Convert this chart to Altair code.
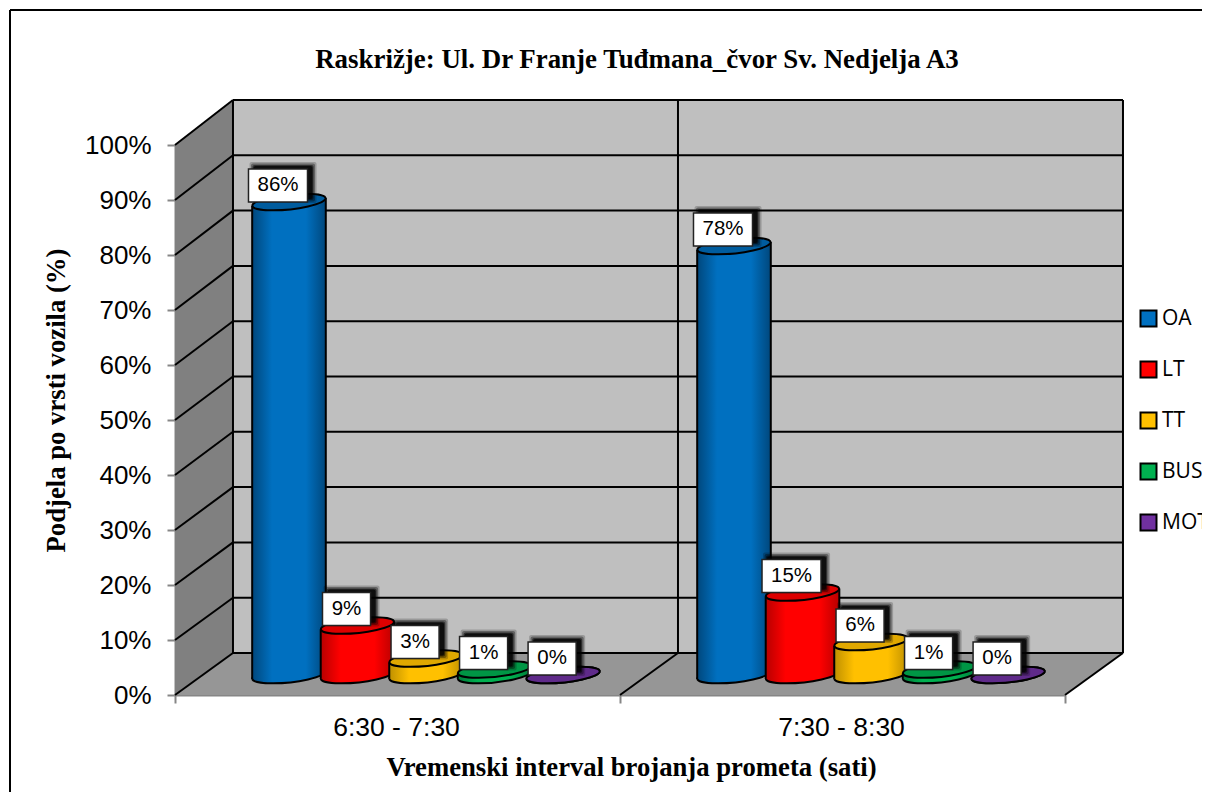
import altair as alt
import pandas as pd

TITLE = "Raskrižje: Ul. Dr Franje Tuđmana_čvor Sv. Nedjelja A3"
X_TITLE = "Vremenski interval brojanja prometa (sati)"
Y_TITLE = "Podjela po vrsti vozila (%)"
INTERVALS = ["6:30 - 7:30", "7:30 - 8:30"]
SERIES = ["OA", "LT", "TT", "BUS", "MOT"]
OA = [86, 78]
LT = [9, 15]
TT = [3, 6]
BUS = [1, 1]
MOT = [0, 0]
VALUES = [OA, LT, TT, BUS, MOT]
BASE = ["#0070C0", "#FF0000", "#FFC000", "#00B050", "#7030A0"]
DARK = ["#00477C", "#B80000", "#BF9000", "#007A38", "#4C2070"]
TOP = ["#005C9E", "#DD0000", "#E0A800", "#009645", "#5F2A8A"]
TICKS = list(range(0, 101, 10))

# Projection constants, in data units (x: one category = 1, y: percent)
DX = 0.1303
DY0 = 7.636
DYK = 1.00545
BASE_Y = 3.64
HALF_W = 0.0827
TILT = 0.71
SLOT0 = 0.191
SLOT = 0.154
DOT = 5420
ELLIPSE = "M-0.9945,0.1045 A1,0.2 -6 1 1 0.9945,-0.1045 A1,0.2 -6 1 1 -0.9945,0.1045 Z"

sx = alt.Scale(domain=[0, 2], nice=False, zero=False)
sy = alt.Scale(domain=[0, 100], nice=False, zero=False)

XAX = alt.Axis(
    values=[0, 1, 2], grid=False, tickSize=8, tickColor="#868686", domainColor="#868686",
    domainWidth=2, tickWidth=2,
    labelExpr=f"datum.value==0?'{INTERVALS[0]}':datum.value==1?'{INTERVALS[1]}':''",
    labelOffset=221, labelFont="Liberation Sans", labelFontSize=26.5, labelColor="black",
    labelPadding=11, labelOverlap=False, labelFlush=False,
    titleFont="Liberation Serif", titleFontWeight="bold", titleFontSize=26.7, titleColor="black",
    titleX=456, titleY=59,
)
YAX = alt.Axis(
    values=TICKS, grid=False, tickSize=8, tickColor="#868686", domainColor="#868686",
    domainWidth=2, tickWidth=2,
    labelExpr="datum.value+'%'", labelFont="Liberation Sans", labelFontSize=26, labelColor="black",
    labelPadding=16, labelOverlap=False,
    titleFont="Liberation Serif", titleFontWeight="bold", titleFontSize=26.7, titleColor="black",
    titleX=-105, titleY=255,
)


def X(f="x:Q"):
    return alt.X(f, scale=sx, axis=XAX, title=X_TITLE)


def Y(f="y:Q"):
    return alt.Y(f, scale=sy, axis=YAX, title=Y_TITLE)


def back(v):
    return DY0 + DYK * v


def cx(g, i):
    return g + DX / 2 + SLOT0 + SLOT * i


def rule(rows, color="black", w=2):
    return alt.Chart(pd.DataFrame(rows, columns=["x", "y", "x2", "y2"])).mark_rule(
        color=color, strokeWidth=w
    ).encode(x=X(), y=Y(), x2="x2:Q", y2="y2:Q")


def area(rows, fill):
    return alt.Chart(pd.DataFrame(rows, columns=["g", "x", "y", "y2"])).mark_area(
        color=fill, orient="vertical", opacity=1
    ).encode(x=X(), y=Y(), y2="y2:Q", detail="g:N")


def grad(dark, mid):
    return alt.Gradient(
        gradient="linear", x1=0, x2=1, y1=0, y2=0,
        stops=[
            alt.GradientStop(color=dark, offset=0),
            alt.GradientStop(color=mid, offset=0.27),
            alt.GradientStop(color=mid, offset=0.73),
            alt.GradientStop(color=dark, offset=1),
        ],
    )


layers = []

# walls and floor
layers.append(area([[0, 0, 100, 0], [0, DX, back(100), back(0)]], "#808080"))
layers.append(area([[0, DX, back(100), back(0)], [0, 2 + DX, back(100), back(0)]], "#BFBFBF"))
layers.append(area([[0, 0, 0, 0], [0, DX, back(0), 0], [0, 2, back(0), 0], [0, 2 + DX, back(0), back(0)]], "#969696"))

# grid lines on both walls
layers.append(rule([[0, t, DX, back(t)] for t in TICKS] + [[DX, back(t), 2 + DX, back(t)] for t in TICKS]))
layers.append(rule([
    [DX, back(100), DX, back(0)],
    [1 + DX, back(100), 1 + DX, back(0)],
    [2 + DX, back(100), 2 + DX, back(0)],
    [1, 0, 1 + DX, back(0)],
    [2, 0, 2 + DX, back(0)],
]))

# hidden points carrying the colour legend
legend_df = pd.DataFrame([
    {"x": cx(g, i), "y": BASE_Y, "s": s}
    for i, s in enumerate(SERIES) for g in range(2)
])
layers.append(
    alt.Chart(legend_df).mark_point(shape=ELLIPSE, size=DOT * 0.8, filled=True, opacity=1).encode(
        x=X(),
        y=Y(),
        color=alt.Color(
            "s:N",
            scale=alt.Scale(domain=SERIES, range=BASE),
            title=None,
            legend=alt.Legend(
                orient="none", legendX=963, legendY=163, symbolType="square", symbolSize=256,
                symbolStrokeColor="black", symbolStrokeWidth=2, symbolOpacity=1,
                labelFont="Open Sans", labelFontSize=21, labelColor="black",
                rowPadding=26, labelOffset=3, padding=0, labelLimit=200,
            ),
        ),
    )
)

# cylinders
for i, (s, vals) in enumerate(zip(SERIES, VALUES)):
    g = grad(DARK[i], BASE[i])
    bot = pd.DataFrame({"x": [cx(k, i) for k in range(2)], "y": [BASE_Y, BASE_Y]})
    top = pd.DataFrame({"x": [cx(k, i) for k in range(2)], "y": [BASE_Y + v for v in vals]})
    layers.append(
        alt.Chart(bot).mark_point(shape=ELLIPSE, size=DOT, filled=True, fill=g, stroke="black", strokeWidth=2, opacity=1).encode(
            x=X(), y=Y()
        )
    )
    body, edges = [], []
    for k, v in enumerate(vals):
        c = cx(k, i)
        yt = BASE_Y + v
        if v > 0:
            body.append([k, c - HALF_W, yt - TILT, BASE_Y - TILT])
            body.append([k, c + HALF_W, yt + TILT, BASE_Y + TILT])
            edges.append([c - HALF_W, yt - TILT, c - HALF_W, BASE_Y - TILT])
            edges.append([c + HALF_W, yt + TILT, c + HALF_W, BASE_Y + TILT])
    if body:
        layers.append(area(body, g))
        layers.append(rule(edges))
    layers.append(
        alt.Chart(top).mark_point(shape=ELLIPSE, size=DOT, filled=True, fill=TOP[i], stroke="black", strokeWidth=2, opacity=1).encode(
            x=X(), y=Y()
        )
    )

# value labels with shadow
rows = []
for i, vals in enumerate(VALUES):
    for k, v in enumerate(vals):
        txt = f"{v}%"
        w = 0.0663 if len(txt) == 3 else 0.054
        cxx = cx(k, i) - 0.0247
        cyy = BASE_Y + v + 3.0
        rows.append({"cx": cxx, "cy": cyy, "hw": w, "t": txt})
lab = pd.DataFrame(rows)
box = lambda d, ox, oy, grow: d.assign(
    x=d.cx - d.hw + ox - grow * 0.00225, x2=d.cx + d.hw + ox + grow * 0.00225,
    y=d.cy - 3.0 + oy - grow * 0.182, y2=d.cy + 3.0 + oy + grow * 0.182,
)
for grow, op in [(4, 0.2), (2.5, 0.35), (1, 0.5), (0, 0.7)]:
    layers.append(
        alt.Chart(box(lab, 0.0113, 0.55, grow)).mark_rect(color="black", opacity=op, cornerRadius=2).encode(
            x=X(), y=Y(), x2="x2:Q", y2="y2:Q"
        )
    )
layers.append(
    alt.Chart(box(lab, 0, 0, 0)).mark_rect(fill="white", stroke="#222222", strokeWidth=1.5, opacity=1).encode(
        x=X(), y=Y(), x2="x2:Q", y2="y2:Q"
    )
)
layers.append(
    alt.Chart(lab).mark_text(font="Liberation Sans", fontSize=20.5, color="black", align="center", baseline="middle").encode(
        x=X("cx:Q"), y=Y("cy:Q"), text="t:N"
    )
)

# outer chart frame
axis_df = pd.DataFrame({"x": [0, 2], "y": [0, 100]})
layers.append(alt.Chart(axis_df).mark_rule(color="black", strokeWidth=2).encode(
    x=alt.value(-165), x2=alt.value(1100), y=alt.value(-135)))
layers.append(alt.Chart(axis_df).mark_rule(color="black", strokeWidth=2).encode(
    x=alt.value(-165), y=alt.value(-135), y2=alt.value(700)))

chart = alt.layer(*layers).properties(
    width=890,
    height=550,
    autosize="none",
    padding={"left": 167, "top": 137, "right": 137, "bottom": 97},
    background="white",
    title=alt.TitleParams(
        TITLE, font="Liberation Serif", fontWeight="bold", fontSize=26.9, color="black",
        anchor="middle", frame="group", dx=17, offset=0, dy=65,
    ),
).configure_view(stroke=None)

chart.save("out.html", embed_options={"renderer": "svg", "actions": False})
